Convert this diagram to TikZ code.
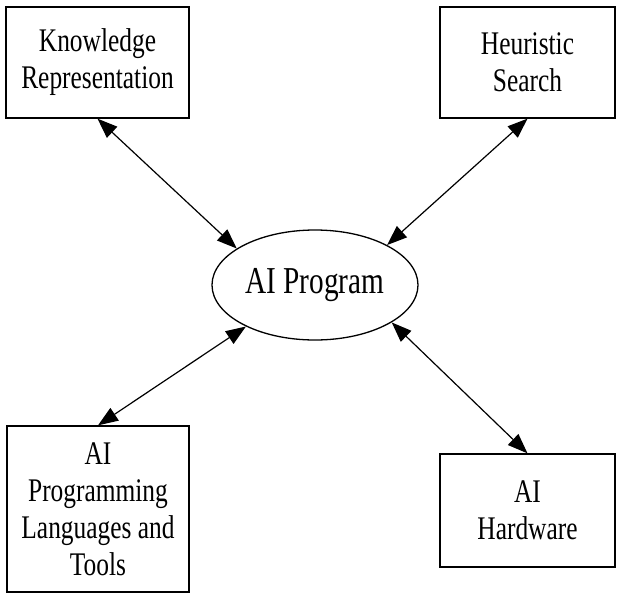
\documentclass[tikz,border=0pt]{standalone}
\usepackage{fontspec}
\setmainfont[FakeStretch=0.77]{Liberation Serif}
\usetikzlibrary{shapes.geometric,arrows.meta}

\begin{document}
\begin{tikzpicture}[x=1pt,y=-1pt,
    topic/.style={draw,line width=1.3pt,rectangle,align=center,inner sep=0pt,
      font=\fontsize{33}{37}\selectfont},
    link/.style={{Triangle[length=20pt,width=15pt]}-{Triangle[length=20pt,width=15pt]},line width=1.2pt}]
\useasboundingbox (0,0) rectangle (619,595);
% centre
\node[draw,line width=1.3pt,ellipse,minimum width=206pt,minimum height=110pt,inner sep=0pt,
  font=\fontsize{38}{42}\selectfont] (prog) at (315,285) {AI Program};
% the four areas round it
\node[topic,minimum width=183pt,minimum height=111pt] (know) at (97.5,62.5) {Knowledge\\Representation};
\node[topic,minimum width=175pt,minimum height=111pt] (search) at (527.5,62.5) {Heuristic\\Search};
\node[topic,minimum width=182pt,minimum height=166pt] (lang) at (98,509) {AI\\Programming\\Languages and\\Tools};
\node[topic,minimum width=175pt,minimum height=113pt] (hard) at (527.5,510.5) {AI\\Hardware};
\draw[link] (know.south) -- (prog.155);
\draw[link] (search.south) -- (prog.29);
\draw[link] (lang.north) -- (prog.211);
\draw[link] (hard.north) -- (prog.-26);
\end{tikzpicture}
\end{document}
